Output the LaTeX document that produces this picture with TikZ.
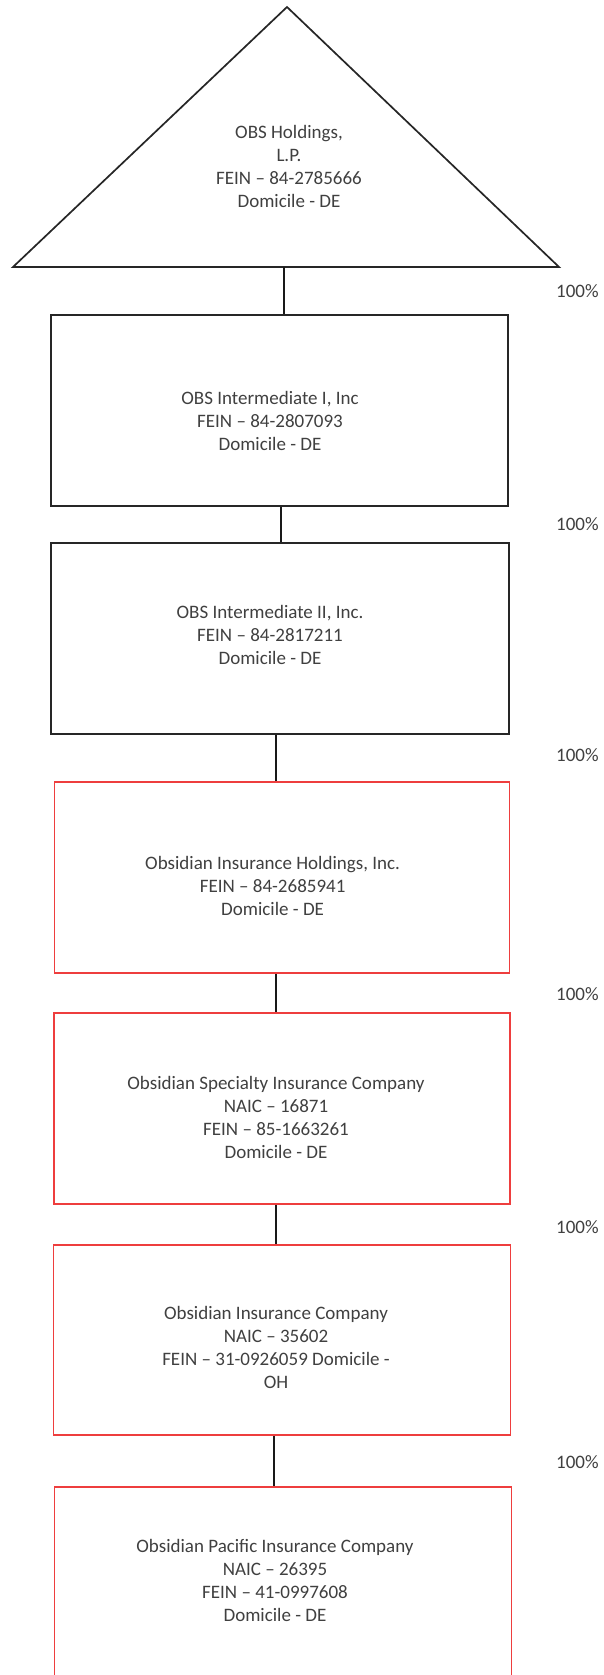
\documentclass[tikz,border=0pt]{standalone}
\usepackage{fontspec}
\setmainfont{Carlito}
\definecolor{txt}{RGB}{64,64,64}
\definecolor{redline}{RGB}{238,62,62}
\begin{document}
\begin{tikzpicture}[x=1pt,y=-1pt,
  lbl/.style={text=txt,align=center,inner sep=0pt,font=\fontsize{19}{23}\selectfont},
  pct/.style={text=txt,anchor=west,inner sep=0pt,font=\fontsize{19}{23}\selectfont},
  blkbox/.style={draw=black!85,line width=1.7pt,rectangle,inner sep=0pt},
  redbox/.style={draw=redline,line width=1.7pt,rectangle,inner sep=0pt},
  conn/.style={draw=black!90,line width=1.7pt}]
\clip (0,0) rectangle (603,1675);
\fill[white] (0,0) rectangle (603,1675);
% triangle
\coordinate (apex) at (287,7);
\coordinate (bl) at (13,267);
\coordinate (br) at (559,267);
\coordinate (base) at (284,267);
\draw[line width=1.7pt,black!85,line join=miter] (apex) -- (br) -- (bl) -- cycle;
\node[lbl] (t0) at (289,166) {OBS Holdings,\\L.P.\\FEIN – 84-2785666\\Domicile - DE};
% boxes
\node[blkbox,minimum width=457,minimum height=191] (b1) at (279.5,410.5) {};
\node[blkbox,minimum width=458,minimum height=191] (b2) at (280,638.5) {};
\node[redbox,minimum width=455,minimum height=191] (b3) at (282,877.5) {};
\node[redbox,minimum width=456,minimum height=191] (b4) at (282,1108.5) {};
\node[redbox,minimum width=457,minimum height=190] (b5) at (282,1340) {};
\node[redbox,minimum width=457,minimum height=213] (b6) at (283,1593.5) {};
% texts
\node[lbl] (t1) at (270,421) {OBS Intermediate I, Inc\\FEIN – 84-2807093\\Domicile - DE};
\node[lbl] (t2) at (270,635) {OBS Intermediate II, Inc.\\FEIN – 84-2817211\\Domicile - DE};
\node[lbl] (t3) at (272.6,886) {Obsidian Insurance Holdings, Inc.\\FEIN – 84-2685941\\Domicile - DE};
\node[lbl] (t4) at (276,1117) {Obsidian Specialty Insurance Company\\NAIC – 16871\\FEIN – 85-1663261\\Domicile - DE};
\node[lbl] (t5) at (276,1347) {Obsidian Insurance Company\\NAIC – 35602\\FEIN – 31-0926059 Domicile -\\OH};
\node[lbl] (t6) at (275,1580) {Obsidian Pacific Insurance Company\\NAIC – 26395\\FEIN – 41-0997608\\Domicile - DE};
% connectors
\draw[conn] (base) -- ([xshift=4.5]b1.north);
\draw[conn] ([xshift=1.5]b1.south) -- ([xshift=1]b2.north);
\draw[conn] ([xshift=-4]b2.south) -- ([xshift=-6]b3.north);
\draw[conn] ([xshift=-6]b3.south) -- ([xshift=-6]b4.north);
\draw[conn] ([xshift=-6]b4.south) -- ([xshift=-6]b5.north);
\draw[conn] ([xshift=-8]b5.south) -- ([xshift=-9]b6.north);
% percentages
\node[pct] (p1) at (556,291) {100\%};
\node[pct] (p2) at (556,524) {100\%};
\node[pct] (p3) at (556,755) {100\%};
\node[pct] (p4) at (556,994) {100\%};
\node[pct] (p5) at (556,1227) {100\%};
\node[pct] (p6) at (556,1462) {100\%};
\end{tikzpicture}
\end{document}
